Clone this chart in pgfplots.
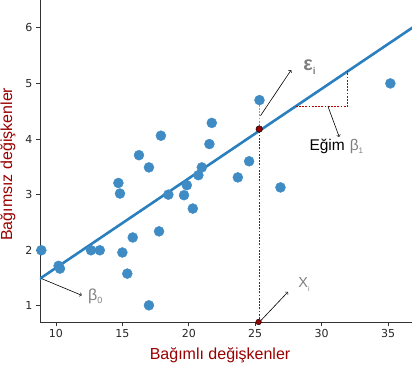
\documentclass[border=0pt]{standalone}
\usepackage{fontspec}
\setmainfont{Liberation Sans}
\newfontfamily\dejavu{DejaVu Sans}
\usepackage{pgfplots}
\pgfplotsset{compat=1.18}
\definecolor{ptblue}{HTML}{3F8BC4}
\definecolor{lineblue}{HTML}{2A7FBE}
\definecolor{dred}{HTML}{9A0000}
\definecolor{dashred}{HTML}{B80000}
\definecolor{tgray}{HTML}{7F7F7F}
\begin{document}
\begin{tikzpicture}
\begin{axis}[
  scale only axis, width=372pt, height=322pt,
  xmin=8.8, xmax=36.8, ymin=0.71, ymax=6.5,
  axis x line*=bottom, axis y line*=left,
  axis line style={draw=black!80, line width=0.8pt},
  xtick={10,15,...,35}, ytick={1,...,6},
  tick align=outside, major tick length=4pt,
  tick style={black!80, line width=0.8pt},
  tick label style={font=\dejavu\fontsize{11}{13}\selectfont, text=black!85},
  /pgf/number format/assume math mode=true,
  xlabel={Bağımlı değişkenler},
  ylabel={Bağımsız değişkenler},
  xlabel style={at={(rel axis cs:0.484,-0.1025)}, anchor=center, font=\fontsize{16}{18}\selectfont, text=dred},
  ylabel style={at={(rel axis cs:-0.086,0.49)}, anchor=center, font=\fontsize{16}{18}\selectfont, text=dred},
  clip=true,
]
\coordinate (sw) at (rel axis cs:0,0);
\coordinate (ne) at (rel axis cs:1,1);
% regression line
\addplot[lineblue, line width=2.6pt] coordinates {(8.6,1.458) (37,6.03)};
% scatter points
\addplot[only marks, mark=*, mark size=5pt, mark options={draw=ptblue, fill=ptblue}] coordinates {
(8.9,2.0) (10.2,1.72) (10.3,1.67) (12.64,2.0) (13.3,2.0) (15.0,1.96) (15.78,2.23)
(15.37,1.58) (17.0,1.01) (17.76,2.34) (14.7,3.21) (14.82,3.02) (16.25,3.71)
(17.0,3.49) (17.9,4.06) (21.73,4.29) (21.55,3.91) (20.98,3.49) (20.72,3.35)
(19.85,3.17) (18.46,3.0) (19.64,2.99) (20.3,2.75) (24.54,3.6) (23.69,3.31)
(25.32,4.7) (26.9,3.13) (35.17,5.0)};
% residual and X_i lines
\addplot[dashred, dash pattern=on 1.8pt off 1.4pt, line width=1pt] coordinates {(25.3,0.71) (25.3,4.18)};
\addplot[dashred!50, dash pattern=on 1.8pt off 1.4pt, line width=1pt] coordinates {(25.3,4.18) (25.3,4.62)};
% slope triangle
\addplot[dashred, dash pattern=on 1.8pt off 1.4pt, line width=1pt] coordinates {(28.06,4.59) (31.98,4.59) (31.98,5.22)};
% red dots
\addplot[only marks, mark=*, mark size=3.3pt, mark options={draw=none, fill=dred}] coordinates {(25.3,4.18)};
\addplot[only marks, mark=*, mark size=2.8pt, mark options={draw=none, fill=dred}] coordinates {(25.25,0.71)};
% arrows
\draw[->, line width=0.6pt] (axis cs:25.4,4.42) -- (axis cs:27.7,5.24);
\draw[->, line width=0.6pt] (axis cs:30.47,4.59) -- (axis cs:31.32,4.04);
\draw[->, line width=0.6pt] (axis cs:8.92,1.49) -- (axis cs:11.94,1.19);
\draw[->, line width=0.6pt] (axis cs:25.32,0.71) -- (axis cs:27.46,1.25);
% labels
\node[anchor=west, inner sep=0pt, text=tgray, font=\bfseries\fontsize{20}{22}\selectfont] at (axis cs:28.6,5.30) {ε\raisebox{-4pt}{\fontsize{10}{10}\selectfont i}};
\node[anchor=west, inner sep=0pt, font=\fontsize{15.5}{18}\selectfont] at (axis cs:29.07,3.87) {Eğim\hspace{5pt}\textcolor{tgray}{β\raisebox{-3pt}{\fontsize{8}{8}\selectfont 1}}};
\node[anchor=west, inner sep=0pt, text=tgray, font=\fontsize{16}{18}\selectfont] at (axis cs:12.41,1.17) {β\raisebox{-3pt}{\fontsize{9}{9}\selectfont 0}};
\node[anchor=west, inner sep=0pt, text=tgray, font=\fontsize{14.5}{16}\selectfont] at (axis cs:28.24,1.39) {X\raisebox{-4pt}{\fontsize{7}{7}\selectfont i}};
\end{axis}
\pgfresetboundingbox
\path[use as bounding box] ([shift={(-40pt,-44pt)}]sw) rectangle (ne);
\end{tikzpicture}
\end{document}
